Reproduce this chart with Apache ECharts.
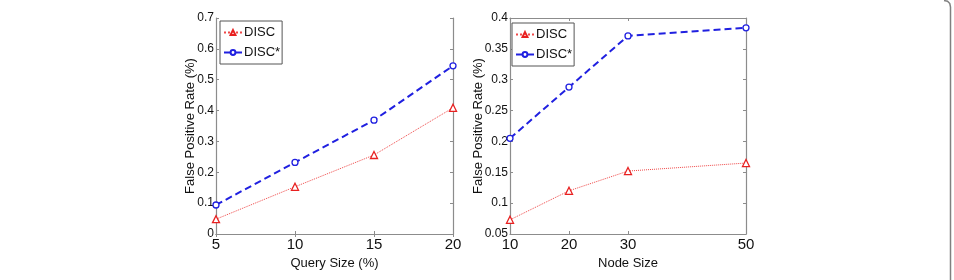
<!DOCTYPE html>
<html>
<head>
<meta charset="utf-8">
<script src="https://cdn.jsdelivr.net/npm/echarts@6/dist/echarts.min.js"></script>
<style>
  html, body { margin: 0; padding: 0; background: #fff; }
  #chart { width: 954px; height: 280px; }
</style>
</head>
<body>
<div id="chart"></div>
<script>
// left panel: query size
const querySizes = [5, 10, 15, 20];
const discByQuery = [0.048, 0.153, 0.256, 0.409];
const discStarByQuery = [0.094, 0.232, 0.369, 0.545];
// right panel: node size
const nodeSizes = [10, 20, 30, 50];
const discByNode = [0.073, 0.12, 0.152, 0.165];
const discStarByNode = [0.205, 0.288, 0.371, 0.384];
const nodeTickLabels = [10, 20, 30, 50];

const FONT = '"Liberation Sans Narrow", "Arial Narrow", "Liberation Sans", Arial, sans-serif';
const AXIS_COLOR = "#8c8c8c";

function pairs(xs, ys) {
  return xs.map((x, i) => [x, ys[i]]);
}

function discSeries(xi, data) {
  return {
    name: "DISC",
    type: "line",
    xAxisIndex: xi,
    yAxisIndex: xi * 2,
    data: data,
    symbol: "triangle",
    symbolSize: 7,
    lineStyle: { color: "#f04848", width: 1, type: "dotted" },
    itemStyle: { color: "#fff", borderColor: "#e82020", borderWidth: 1.3 },
    z: 3,
  };
}

function discStarSeries(xi, data) {
  return {
    name: "DISC*",
    type: "line",
    xAxisIndex: xi,
    yAxisIndex: xi * 2,
    data: data,
    symbol: "circle",
    symbolSize: 6,
    lineStyle: { color: "#2020e0", width: 2, type: [7, 4] },
    itemStyle: { color: "#fff", borderColor: "#2020e0", borderWidth: 1.3 },
    z: 4,
  };
}

function legendAt(left, top) {
  return {
    orient: "vertical",
    left: left,
    top: top,
    data: ["DISC", "DISC*"],
    backgroundColor: "#fff",
    borderColor: "#555",
    borderWidth: 1,
    borderRadius: 0,
    padding: [5, 2, 5, 3],
    itemGap: 7,
    itemWidth: 18,
    itemHeight: 6,
    textStyle: { fontFamily: FONT, fontSize: 13, color: "#111", padding: [0, 0, 0, -3] },
  };
}

function yAxes(gi, min, max, step) {
  const base = {
    gridIndex: gi,
    type: "value",
    min: min,
    max: max,
    interval: step,
    splitLine: { show: false },
    axisLine: { show: true, lineStyle: { color: AXIS_COLOR, width: 1.2 } },
    axisTick: { show: true, inside: true, length: 3, lineStyle: { color: AXIS_COLOR } },
  };
  return [
    Object.assign({}, base, {
      position: "left",
      name: "False Positive Rate (%)",
      nameLocation: "middle",
      nameGap: gi === 0 ? 19 : 25,
      nameMoveOverlap: false,
      nameTextStyle: { fontFamily: FONT, fontSize: 13, color: "#111" },
      axisLabel: {
        fontFamily: FONT,
        fontSize: 12,
        color: "#111",
        margin: 2,
        formatter: (v) => String(Math.round(v * 100) / 100),
      },
    }),
    Object.assign({}, base, { position: "right", axisLabel: { show: false } }),
  ];
}

function xAxisFor(gi, min, max, step, name, ticks) {
  const tick = { show: true, inside: true, length: 3, lineStyle: { color: AXIS_COLOR } };
  const label = { fontFamily: FONT, fontSize: 15, color: "#111", margin: 3 };
  if (ticks) {
    tick.customValues = ticks;
    label.customValues = ticks;
  }
  return [
    {
      gridIndex: gi,
      type: "value",
      min: min,
      max: max,
      interval: step,
      name: name,
      nameLocation: "middle",
      nameGap: 23,
      nameMoveOverlap: false,
      nameTextStyle: { fontFamily: FONT, fontSize: 13, color: "#111", verticalAlign: "top" },
      splitLine: { show: false },
      axisLine: { show: true, lineStyle: { color: AXIS_COLOR, width: 1.2 } },
      axisTick: tick,
      axisLabel: label,
    },
    {
      gridIndex: gi,
      type: "value",
      position: "top",
      min: min,
      max: max,
      interval: step,
      splitLine: { show: false },
      axisLine: { show: true, lineStyle: { color: AXIS_COLOR, width: 1.2 } },
      axisTick: tick,
      axisLabel: { show: false },
    },
  ];
}

const leftX = xAxisFor(0, 5, 20, 5, "Query Size (%)", null);
const rightX = xAxisFor(1, 10, 50, 10, "Node Size", nodeTickLabels);

const chart = echarts.init(document.getElementById("chart"));
chart.setOption({
  animation: false,
  backgroundColor: "#fff",
  grid: [
    { left: 216, top: 18, width: 237, height: 216 },
    { left: 510, top: 18, width: 236, height: 216 },
  ],
  legend: [legendAt(220, 21), legendAt(512, 23)],
  // bottom axes first so series xAxisIndex 0/1 map to them
  xAxis: [leftX[0], rightX[0], leftX[1], rightX[1]],
  yAxis: [].concat(yAxes(0, 0, 0.7, 0.1), yAxes(1, 0.05, 0.4, 0.05)),
  series: [
    discSeries(0, pairs(querySizes, discByQuery)),
    discStarSeries(0, pairs(querySizes, discStarByQuery)),
    discSeries(1, pairs(nodeSizes, discByNode)),
    discStarSeries(1, pairs(nodeSizes, discStarByNode)),
  ],
  graphic: [
    {
      type: "polyline",
      shape: { points: [[944, 0.5], [947.5, 1.2], [949.8, 3.5], [950.5, 7], [950.5, 280]] },
      style: { fill: null, stroke: "#808080", lineWidth: 1.5 },
      silent: true,
    },
  ],
});
</script>
</body>
</html>
